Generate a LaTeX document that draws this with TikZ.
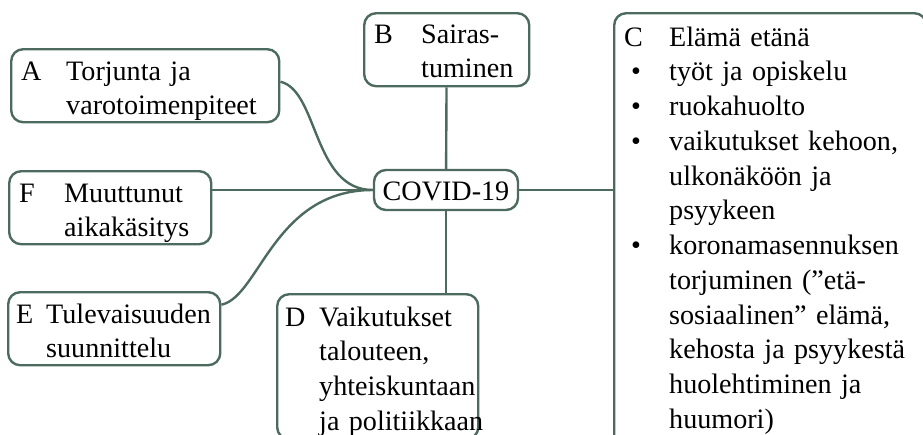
\documentclass[tikz,border=0pt]{standalone}
\usepackage{fontspec}
\setmainfont{Liberation Serif}
\usepackage{array}
\definecolor{leafgreen}{RGB}{76,106,94}
\newcommand{\tabbed}[2][1.125cm]{\begin{tabular}[t]{@{}p{#1}@{}l@{}}#2\end{tabular}}
\newcommand{\bul}{\hspace*{0.17cm}\textbullet}

\begin{document}
\begin{tikzpicture}[x=0.025cm,y=-0.025cm,
    leaf/.style={draw=leafgreen,line width=1.7pt,rounded corners=0.3cm,anchor=north west,
      inner xsep=0.25cm,inner ysep=0pt,align=left,text height=0.75cm,font=\fontsize{20}{24.7}\selectfont},
    link/.style={draw=leafgreen,line width=1.7pt}]
        \useasboundingbox (0,0) rectangle (923,435);
        \clip (0,0) rectangle (923,435);
        \node[leaf,text width=6.2cm,text height=0.775cm,text depth=1.05cm] (A) at (10,48) {\tabbed{A & Torjunta ja\\ & varotoimenpiteet}};
        \node[leaf,text width=3.625cm,text height=0.75cm,text depth=1.075cm] (B) at (363,12) {\tabbed[1.175cm]{B & Sairas-\\ & tuminen}};
        \node[leaf,text width=7.3cm,text height=0.825cm,text depth=10.05cm] (C) at (613,12) {\tabbed{C & Elämä etänä\\ \bul & työt ja opiskelu\\ \bul & ruokahuolto\\ \bul & vaikutukset kehoon,\\ & ulkonäköön ja\\ & psyykeen\\ \bul & koronamasennuksen\\ & torjuminen (”etä-\\ & sosiaalinen” elämä,\\ & kehosta ja psyykestä\\ & huolehtiminen ja\\ & huumori)}};
        \node[leaf,inner xsep=0.2cm,text width=4.625cm,text height=0.8cm,text depth=2.825cm] (D) at (276,293) {\tabbed[0.85cm]{D & Vaikutukset\\ & talouteen,\\ & yhteiskuntaan\\ & ja politiikkaan}};
        \node[leaf,inner xsep=0.2cm,text width=4.9cm,text height=0.775cm,text depth=1.05cm] (E) at (7,291) {\tabbed[0.75cm]{E & Tulevaisuuden\\ & suunnittelu}};
        \node[leaf,text width=4.55cm,text height=0.775cm,text depth=1.05cm] (F) at (8,170) {\tabbed{F & Muuttunut\\ & aikakäsitys}};
        \node[leaf,anchor=center,align=center,inner xsep=0.2cm,text depth=0.25cm,minimum width=3.6cm] (covid) at (446,190) {COVID-19};
        \draw[link] (B) -- (covid);
        \draw[link] (covid.south) -- (covid.south |- D.north);
        \draw[link] (covid.east) -- (covid.east -| C.west);
        \draw[link] (F.east |- covid.west) -- (covid.west);
        \draw[link] ([yshift=0.1cm]A.east) .. controls +(38,9) and +(-60,0) .. (covid.west);
        \draw[link] ([yshift=0.6cm]E.east) .. controls +(38,-8) and +(-99,0) .. (covid.west);
      \end{tikzpicture}
\end{document}
